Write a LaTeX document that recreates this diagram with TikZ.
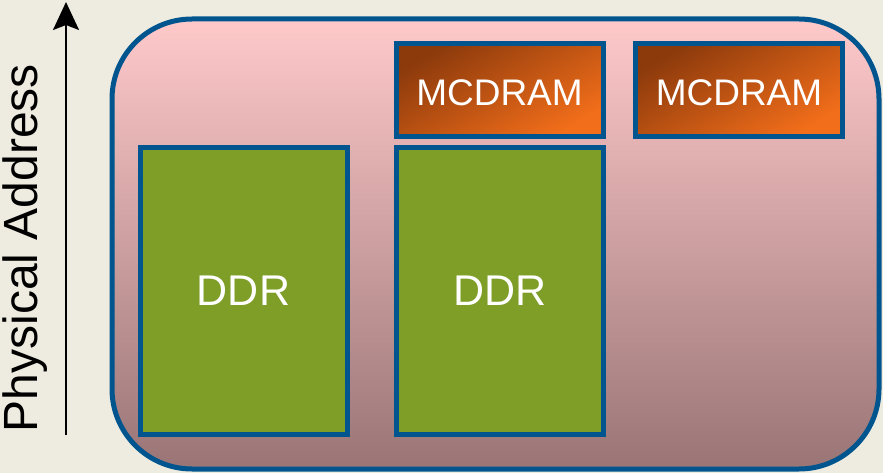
\documentclass[tikz,border=0pt]{standalone}
\usepackage{fontspec}
\setmainfont{Liberation Sans}
\usetikzlibrary{arrows.meta}
\definecolor{bgc}{HTML}{EEEBE0}
\definecolor{bluec}{HTML}{00558F}
\definecolor{pinktop}{HTML}{FFC9CA}
\definecolor{pinkbot}{HTML}{9A7576}
\definecolor{ddrc}{HTML}{7F9E28}
\definecolor{mcA}{HTML}{8C3A0C}
\definecolor{mcB}{HTML}{F26E1A}
\tikzset{
  x=1pt, y=-1pt,
  outerbox/.style={draw=bluec, line width=5pt, rounded corners=80pt, top color=pinktop, bottom color=pinkbot, minimum width=767pt, minimum height=450pt, inner sep=0pt},
  ddrbox/.style={draw=bluec, line width=5pt, fill=ddrc, text=white, font=\fontsize{43}{47}\selectfont, inner sep=0pt, minimum width=207pt, minimum height=286pt},
  mcbox/.style={draw=bluec, line width=5pt, top color=mcA, bottom color=mcB, shading angle=30, inner sep=0pt, minimum width=207pt, minimum height=93pt},
  mctext/.style={text=white, font=\fontsize{37}{41}\selectfont, inner sep=0pt},
  axislabel/.style={font=\fontsize{48}{52}\selectfont, rotate=90, inner sep=0pt}
}
\begin{document}
\begin{tikzpicture}
\fill[bgc] (0,0) rectangle (883,473);
\useasboundingbox (0,0) rectangle (883,473);
\node[outerbox] (outer) at (495.5,244) {};
\node[ddrbox] (ddr1) at (243.5,291) {DDR};
\node[ddrbox] (ddr2) at (500,291) {DDR};
\node[mcbox] (mc1) at (499.5,90.5) {};
\node[mcbox] (mc2) at (739,90.5) {};
\node[mctext] (mct1) at (499.5,93) {MCDRAM};
\node[mctext] (mct2) at (739,93) {MCDRAM};
\coordinate (abot) at (66,435);
\coordinate (atop) at (66,2);
\draw[line width=2pt, -{Stealth[length=28pt,width=26pt,inset=5pt]}] (abot) -- (atop);
\node[axislabel] (lbl) at (25,248) {Physical Address};
\end{tikzpicture}
\end{document}
